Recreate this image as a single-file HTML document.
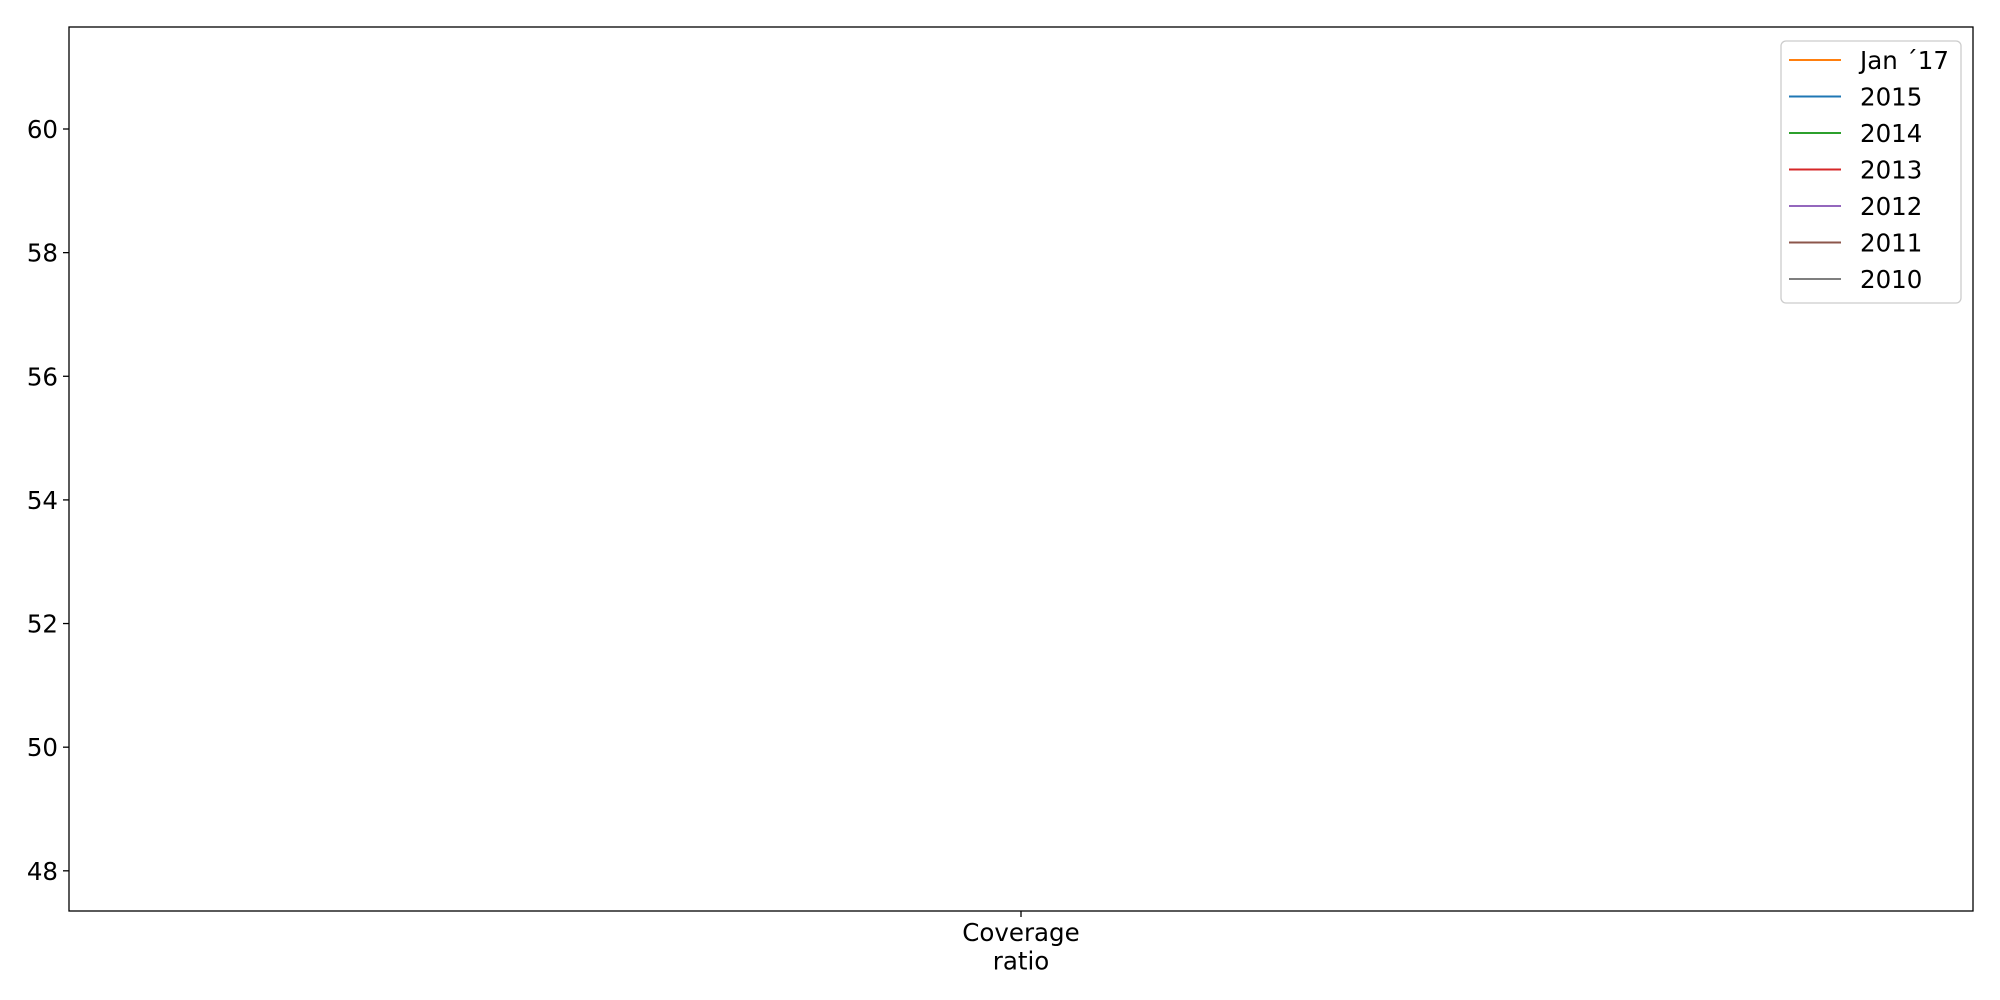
<!DOCTYPE html>
<html><head><meta charset="utf-8"><style>
body{margin:0;background:#fff;}
svg{display:block;font-family:"DejaVu Sans","Liberation Sans",sans-serif;}
</style></head><body>
<svg id="chart" width="2000" height="1000" viewBox="0 0 2000 1000">
<rect x="0" y="0" width="2000" height="1000" fill="#fff"/>
<g id="plot"></g>
<g id="yaxis"></g>
<g id="xaxis"></g>
<rect x="69" y="27" width="1904" height="884" fill="none" stroke="#000" stroke-width="1.3"/>
<g id="legend"></g>
</svg>
<script>
const categories = ["Coverage\nratio"];
const seriesNames = ["Jan \u00b417","2015","2014","2013","2012","2011","2010"];
const seriesColors = ["#ff7f0e","#1f77b4","#2ca02c","#d62728","#9467bd","#8c564b","#7f7f7f"];
const valuesJan17 = [null];
const values2015 = [null];
const values2014 = [null];
const values2013 = [null];
const values2012 = [null];
const values2011 = [null];
const values2010 = [null];
const yTicks = [48,50,52,54,56,58,60];

const allValues = [valuesJan17,values2015,values2014,values2013,values2012,values2011,values2010];
const NS = "http://www.w3.org/2000/svg";
const L=69,R=1973,T=27,B=911;
const yMin=47.35,yMax=61.65;
const FS=24.5;
function y(v){return B-(v-yMin)/(yMax-yMin)*(B-T);}
function x(i){return L+(R-L)*(i+0.5)/categories.length;}
function mk(tag,attrs,parent){const e=document.createElementNS(NS,tag);for(const k in attrs)e.setAttribute(k,attrs[k]);parent.appendChild(e);return e;}

const ya=document.getElementById('yaxis');
yTicks.forEach(t=>{
  const ln=mk('line',{x1:L-6,x2:L,y1:y(t),y2:y(t),stroke:'#000','stroke-width':1.3},ya);
  
  
  const tx=mk('text',{x:L-11,y:y(t)+9,'text-anchor':'end','font-size':FS,fill:'#000'},ya);
  tx.textContent=t;
  
  
});
const xa=document.getElementById('xaxis');
categories.forEach((c,i)=>{
  const ln=mk('line',{x1:x(i),x2:x(i),y1:B,y2:B+6,stroke:'#000','stroke-width':1.3},xa);
  
  
  c.split('\n').forEach((part,j)=>{
    const tx=mk('text',{x:x(i),y:B+30+j*28.5,'text-anchor':'middle','font-size':FS,fill:'#000'},xa);
    tx.textContent=part;
    
    
  });
});
const plot=document.getElementById('plot');
allValues.forEach((vals,s)=>{
  const pts=[];
  vals.forEach((v,i)=>{if(v!==null&&v!==undefined)pts.push(x(i)+','+y(v));});
  if(pts.length>0){
    const pl=mk('polyline',{points:pts.join(' '),fill:'none',stroke:seriesColors[s],'stroke-width':2},plot);
    
    
  }
});
const lg=document.getElementById('legend');
const box=mk('rect',{x:1781,y:41,width:180,height:262,rx:5,fill:'#fff',stroke:'#ccc','stroke-width':1.3},lg);


seriesNames.forEach((n,i)=>{
  const yy=60+i*36.5;
  const g=mk('g',{},lg);
  
  
  mk('line',{x1:1789,x2:1841,y1:yy,y2:yy,stroke:seriesColors[i],'stroke-width':2},g);
  const tx=mk('text',{x:1860,y:yy+9,'font-size':FS,fill:'#000'},g);
  tx.textContent=n;
});
</script>
</body></html>
